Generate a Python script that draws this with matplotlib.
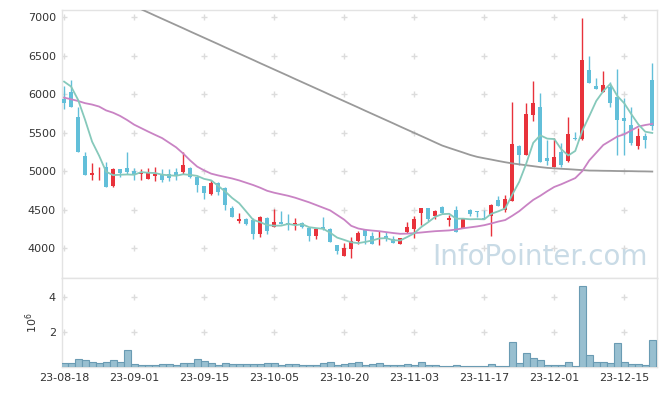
import numpy as np
import pandas as pd
import matplotlib
matplotlib.use("Agg")
import matplotlib.pyplot as plt

# ---------------- data ----------------
opens = [5939, 6026, 5706, 5199, 4952, 4970, 5052, 4813, 5030, 5043,
         5008, 4961, 4904, 4939, 4956, 4965, 4991, 4987, 5043, 4930,
         4813, 4705, 4848, 4779, 4520, 4346, 4377, 4359, 4177, 4394,
         4273, 4342, 4329, 4294, 4320, 4255, 4151, 4273, 4251, 4043,
         3891, 3991, 4086, 4229, 4151, 4112, 4156, 4121, 4052, 4203,
         4242, 4450, 4520, 4420, 4533, 4359, 4494, 4260, 4498, 4485,
         4394, 4411, 4627, 4498, 4618, 5333, 5212, 5732, 5832, 5173,
         5060, 5255, 5134, 5433, 5416, 6316, 6108, 6026, 6091, 5962,
         5689, 5602, 5329, 5459, 6186]
highs = [6108, 6186, 5839, 5251, 5104, 5060, 5125, 5039, 5030, 5251,
         5043, 5026, 5047, 5052, 5026, 5034, 5039, 5251, 5060, 4930,
         4813, 4891, 4861, 4800, 4549, 4455, 4390, 4390, 4411, 4407,
         4507, 4481, 4446, 4390, 4338, 4260, 4255, 4403, 4255, 4043,
         4065, 4138, 4216, 4229, 4203, 4216, 4203, 4151, 4134, 4338,
         4420, 4524, 4520, 4498, 4550, 4433, 4553, 4390, 4511, 4485,
         4498, 4576, 4683, 4692, 5897, 5342, 5884, 6173, 6021, 5407,
         5437, 5364, 5702, 5515, 6988, 6498, 6208, 6307, 6164, 6325,
         5949, 5839, 5559, 5502, 6403]
lows = [5809, 5830, 5255, 4956, 4887, 4887, 4800, 4792, 4922, 4961,
        4887, 4887, 4900, 4870, 4865, 4870, 4887, 4961, 4909, 4735,
        4644, 4692, 4692, 4497, 4403, 4325, 4299, 4117, 4143, 4186,
        4268, 4307, 4234, 4234, 4255, 4086, 4117, 4229, 4073, 3922,
        3891, 3870, 4052, 4052, 4052, 4043, 4086, 4060, 4052, 4195,
        4130, 4303, 4355, 4381, 4440, 4288, 4203, 4255, 4411, 4403,
        4377, 4160, 4541, 4463, 4610, 5082, 5212, 5650, 5125, 5082,
        5052, 5060, 5125, 5407, 5407, 6143, 6065, 6026, 5839, 5212,
        5212, 5342, 5286, 5299, 5537]
closes = [5891, 5839, 5255, 4956, 4978, 4978, 4800, 5030, 4982, 4995,
          4961, 4970, 4991, 4961, 4891, 4917, 4943, 5086, 4922, 4826,
          4722, 4848, 4727, 4559, 4403, 4381, 4312, 4182, 4407, 4216,
          4342, 4312, 4294, 4329, 4273, 4151, 4251, 4251, 4073, 3956,
          4004, 4095, 4195, 4151, 4052, 4134, 4117, 4060, 4134, 4277,
          4372, 4524, 4377, 4485, 4450, 4394, 4203, 4381, 4446, 4463,
          4377, 4563, 4541, 4637, 5355, 5216, 5745, 5891, 5125, 5138,
          5190, 5082, 5485, 5420, 6446, 6143, 6073, 6121, 5891, 5667,
          5658, 5372, 5459, 5407, 5589]
volumes = [0.23, 0.23, 0.46, 0.40, 0.29, 0.23, 0.29, 0.40, 0.29, 0.97,
           0.17, 0.11, 0.11, 0.11, 0.17, 0.17, 0.11, 0.23, 0.23, 0.46,
           0.34, 0.23, 0.11, 0.23, 0.17, 0.17, 0.17, 0.17, 0.17, 0.23,
           0.23, 0.11, 0.17, 0.17, 0.11, 0.11, 0.11, 0.23, 0.29, 0.11,
           0.17, 0.23, 0.29, 0.11, 0.17, 0.23, 0.11, 0.11, 0.11, 0.17,
           0.11, 0.29, 0.11, 0.11, 0.06, 0.06, 0.11, 0.06, 0.06, 0.06,
           0.06, 0.17, 0.06, 0.06, 1.43, 0.23, 0.80, 0.51, 0.40, 0.11,
           0.11, 0.11, 0.29, 0.06, 4.63, 0.69, 0.29, 0.29, 0.23, 1.37,
           0.29, 0.17, 0.17, 0.11, 1.54]  # in 10^6
ma5_head = [6164, 6100, 5927, 5667]
ma20 = [5956, 5935, 5912, 5884, 5866, 5840, 5790, 5760, 5718, 5665,
        5605, 5560, 5515, 5472, 5430, 5370, 5310, 5230, 5140, 5060,
        5010, 4968, 4945, 4925, 4905, 4880, 4850, 4820, 4785, 4745,
        4720, 4700, 4680, 4655, 4625, 4595, 4560, 4525, 4490, 4430,
        4370, 4290, 4255, 4238, 4228, 4220, 4208, 4196, 4186, 4188,
        4195, 4203, 4212, 4220, 4225, 4230, 4242, 4258, 4270, 4282,
        4298, 4320, 4345, 4365, 4420, 4480, 4555, 4627, 4680, 4740,
        4795, 4830, 4870, 4910, 5000, 5140, 5240, 5340, 5395, 5450,
        5480, 5530, 5580, 5600, 5615]
ma_long = [7558, 7517, 7476, 7434, 7393, 7352, 7311, 7270, 7228, 7187,
           7146, 7105, 7064, 7022, 6981, 6940, 6899, 6858, 6816, 6775,
           6734, 6693, 6652, 6610, 6569, 6528, 6487, 6446, 6404, 6363,
           6322, 6281, 6240, 6198, 6157, 6116, 6075, 6034, 5992, 5951,
           5910, 5869, 5828, 5786, 5745, 5704, 5663, 5622, 5580, 5539,
           5498, 5457, 5416, 5374, 5333, 5302, 5272, 5242, 5211, 5186,
           5168, 5151, 5133, 5116, 5101, 5089, 5077, 5065, 5053, 5043,
           5037, 5031, 5026, 5020, 5014, 5008, 5007, 5005, 5004, 5002,
           5001, 5000, 4998, 4997, 4995]
tick_labels = ["23-08-18", "23-09-01", "23-09-15", "23-10-05", "23-10-20",
               "23-11-03", "23-11-17", "23-12-01", "23-12-15"]
price_ticks = [4000, 4500, 5000, 5500, 6000, 6500, 7000]
vol_ticks = [2, 4]

# ---------------- styling ----------------
UP = "#e8323b"
DOWN = "#62bfd9"
GRID = "#dcdcdc"
SPINE = "#e3e3e3"
TXT = "#333333"

o = np.array(opens, float); h = np.array(highs, float)
l = np.array(lows, float); c = np.array(closes, float)
x = np.arange(len(c))
ma5 = pd.Series(c).rolling(5).mean().to_numpy()
ma5[:len(ma5_head)] = ma5_head

W, H = 665, 396
fig = plt.figure(figsize=(W / 100, H / 100), dpi=100)
L, R = 61.5, 656.7
top1, bot1, bot2 = 10, 277.5, 367.3
ax1 = fig.add_axes([L / W, (H - bot1) / H, (R - L) / W, (bot1 - top1) / H])
ax2 = fig.add_axes([L / W, (H - bot2) / H, (R - L) / W, (bot2 - bot1) / H], sharex=ax1)

xt = list(range(0, len(c), 10))

# candles
up = c >= o
colors = np.where(up, UP, DOWN)
ax1.vlines(x, l, h, colors=colors, linewidth=1, zorder=3)
body_b = np.minimum(o, c)
body_h = np.maximum(np.abs(c - o), 12)
ax1.bar(x, body_h, bottom=body_b, width=0.62, color=colors, linewidth=0, zorder=4)

ax1.plot(x, ma_long, color="#9a9a9a", lw=1.3, zorder=5)
ax1.plot(x, ma20, color="#c983c4", lw=1.3, zorder=5)
ax1.plot(x, ma5, color="#86c9bb", lw=1.3, zorder=5)

ax1.set_xlim(-0.37, 84.63)
ax1.set_ylim(3618, 7095)
ax1.set_yticks(price_ticks)
ax1.tick_params(axis="y", length=0, pad=4, labelsize=8, labelcolor=TXT)
ax1.tick_params(axis="x", length=0, labelbottom=False)
gx, gy = np.meshgrid(xt, price_ticks)
ax1.plot(gx.ravel(), gy.ravel(), "+", color=GRID, ms=4, mew=1, zorder=1)

ax1.text(0.985, 0.025, "InfoPointer.com", transform=ax1.transAxes, ha="right",
         va="bottom", fontsize=20, color="#c9dbe6", zorder=2)

# volume
ax2.bar(x, volumes, width=1.0, color="#98bfd0", edgecolor="#6a9bb3", linewidth=0.8, zorder=3)
ax2.set_ylim(0, 5.09)
ax2.set_yticks(vol_ticks)
ax2.set_yticklabels([str(v) for v in vol_ticks])
ax2.tick_params(axis="y", length=0, pad=4, labelsize=8, labelcolor=TXT)
ax2.set_xticks(xt)
ax2.set_xticklabels(tick_labels)
ax2.tick_params(axis="x", length=0, pad=4, labelsize=8, labelcolor=TXT)
gx2, gy2 = np.meshgrid(xt, vol_ticks)
ax2.plot(gx2.ravel(), gy2.ravel(), "+", color=GRID, ms=4, mew=1, zorder=1)
ax2.set_ylabel(r"$10^6$", fontsize=8, color=TXT, labelpad=6)

for ax in (ax1, ax2):
    for s in ax.spines.values():
        s.set_color(SPINE)
        s.set_linewidth(1)

fig.savefig("out.png", dpi=100)
